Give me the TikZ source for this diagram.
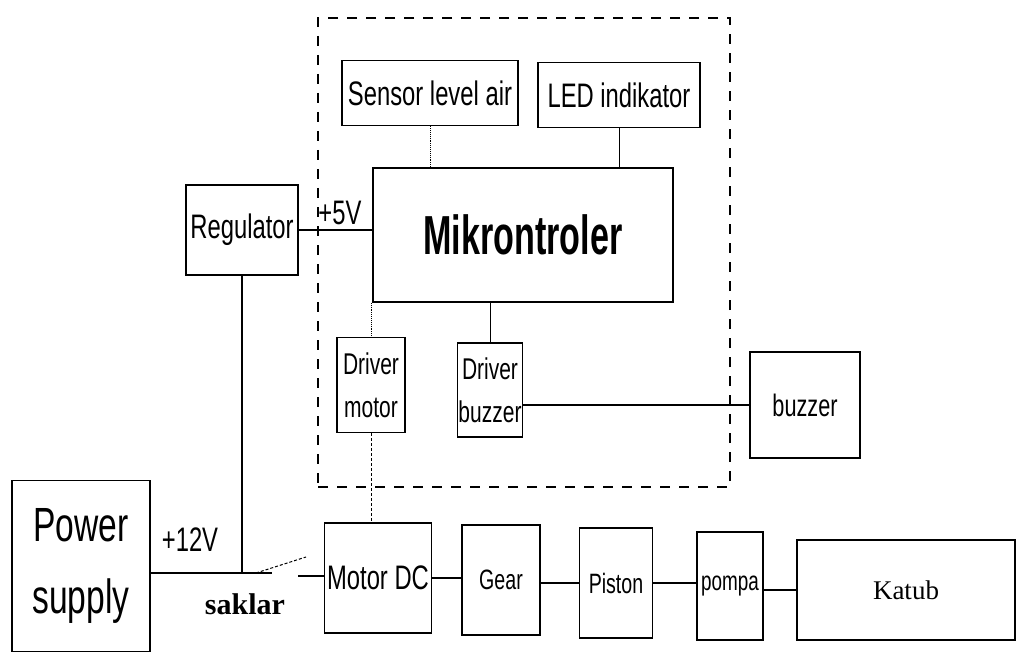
\documentclass[tikz,border=0pt]{standalone}
\usepackage{fontspec}
\setmainfont{Liberation Serif}
\newfontfamily\nar[FakeStretch=0.7]{Liberation Sans}
\newfontfamily\mkf[FakeStretch=0.62]{Liberation Sans}
\begin{document}
\begin{tikzpicture}[x=1pt,y=-1pt,
  blk/.style={draw, line width=1.6pt, inner sep=0pt, align=center},
  wire/.style={line width=1.5pt},
  link/.style={line width=0.9pt},
  dlink/.style={line width=0.9pt, densely dashed},
  frame/.style={draw, line width=1.5pt, dash pattern=on 10pt off 9pt, inner sep=0pt}]
\useasboundingbox (0,0) rectangle (1034,658);
\fill[white] (0,0) rectangle (1034,658);

\node[frame, minimum width=412pt, minimum height=469pt] (fr) at (524,252.5) {};

\node[blk, minimum width=138pt, minimum height=171pt, font={\nar\fontsize{48}{72}\selectfont}] (ps) at (81,566) {Power\\supply};
\node[blk, minimum width=112pt, minimum height=90pt, font={\nar\fontsize{34}{40}\selectfont}] (reg) at (242,230) {Regulator};
\node[blk, minimum width=176pt, minimum height=65pt, font={\nar\fontsize{34}{40}\selectfont}] (sen) at (430,93) {Sensor level air};
\node[blk, minimum width=162pt, minimum height=65pt, font={\nar\fontsize{34}{40}\selectfont}] (led) at (619,95) {LED indikator};
\node[blk, minimum width=300pt, minimum height=134pt, font={\mkf\bfseries\fontsize{55}{60}\selectfont}] (mk) at (523,235) {Mikrontroler};
\node[blk, minimum width=68pt, minimum height=95pt, font={\nar\fontsize{30}{43}\selectfont}] (dm) at (371,385) {Driver\\motor};
\node[blk, minimum width=65pt, minimum height=94pt, font={\nar\fontsize{30}{43}\selectfont}] (db) at (490,390) {Driver\\buzzer};
\node[blk, minimum width=110pt, minimum height=106pt, font={\nar\fontsize{31}{36}\selectfont}] (bz) at (805,405) {buzzer};
\node[blk, minimum width=107pt, minimum height=110pt, font={\nar\fontsize{34}{40}\selectfont}] (mdc) at (378,578) {Motor DC};
\node[blk, minimum width=78pt, minimum height=110pt, font={\nar\fontsize{28}{32}\selectfont}] (gear) at (501,580) {Gear};
\node[blk, minimum width=73pt, minimum height=110pt, font={\nar\fontsize{28}{32}\selectfont}] (pis) at (616,583) {Piston};
\node[blk, minimum width=66pt, minimum height=108pt, font={\nar\fontsize{27}{32}\selectfont}] (pom) at (730,586) {pompa};
\node[blk, minimum width=218pt, minimum height=100pt, font={\fontsize{27}{32}\selectfont}] (kat) at (906,590) {Katub};

\node[font={\nar\fontsize{34}{40}\selectfont}] (v5) at (340,213) {+5V};
\node[font={\nar\fontsize{34}{40}\selectfont}] (v12) at (190,540) {+12V};
\node[font={\bfseries\fontsize{30}{36}\selectfont}] (sak) at (245,604) {saklar};

\coordinate (sw0) at (256,573);
\coordinate (sw1) at (272,573);
\coordinate (sw2) at (306,557);
\coordinate (sw3) at (298,576);

\draw[wire] (ps.east |- sw1) -- (sw1);
\draw[wire] (reg.south) -- (reg.south |- sw1);
\draw[line width=1pt, densely dashed] (sw0) -- (sw2);
\draw[wire] (sw3) -- (sw3 -| mdc.west);

\draw[wire] (reg.east) -- (reg.east -| mk.west);
\draw[link, densely dotted] (sen.south) -- (sen.south |- mk.north);
\draw[link] (led.south) -- (led.south |- mk.north);
\draw[link, densely dotted] (mk.south -| dm.north) -- (dm.north);
\draw[link] (mk.south -| db.north) -- (db.north);
\draw[dlink] (dm.south) -- (dm.south |- mdc.north);
\draw[wire] (db.east |- bz.west) -- (bz.west);

\draw[wire] (mdc.east) -- (mdc.east -| gear.west);
\draw[wire] (gear.east |- pis.west) -- (pis.west);
\draw[wire] (pis.east) -- (pis.east -| pom.west);
\draw[wire] (pom.east |- kat.west) -- (kat.west);
\end{tikzpicture}
\end{document}
